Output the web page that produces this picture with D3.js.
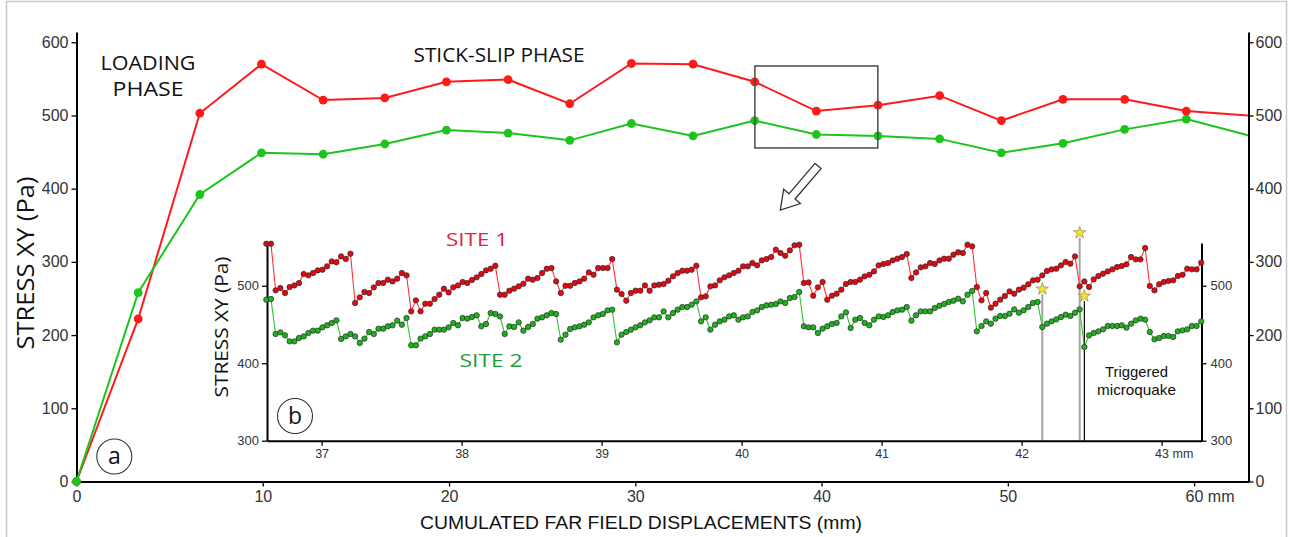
<!DOCTYPE html>
<html>
<head>
<meta charset="utf-8">
<script src="https://cdn.jsdelivr.net/npm/d3@7"></script>
<style>
  html, body { margin: 0; padding: 0; background: #fff; }
  svg { display: block; }
  .tick text { fill: #333; font-family: "Liberation Sans", Arial, sans-serif; }
</style>
</head>
<body>
<svg id="chart" width="1289" height="537"></svg>
<script>
// ---------------- DATA ----------------
// Main chart (a): cumulated far-field displacement (mm) vs stress XY (Pa)
const mainX = [0, 3.31, 6.62, 9.93, 13.24, 16.55, 19.86, 23.17, 26.48, 29.79, 33.1, 36.41, 39.72, 43.03, 46.34, 49.65, 52.96, 56.27, 59.58, 62.89];
const mainSite1 = [0, 222, 503, 570, 521, 524, 546, 549, 516, 571, 570, 546, 506, 514, 527, 493, 522, 522, 506, 500];
const mainSite2 = [0, 258, 392, 449, 447, 461, 480, 476, 466, 489, 472, 493, 474, 472, 468, 449, 462, 481, 495, 473];
const mainXTicks = [0, 10, 20, 30, 40, 50, 60];
const mainYTicks = [0, 100, 200, 300, 400, 500, 600];
// zoom box drawn on the main chart (data coordinates)
const zoomBoxX = [36.42, 43.02];
const zoomBoxY = [455.6, 567.6];

// Inset (b): regular sampling in displacement
const insetStartMM = 36.605;
const insetStepMM = 0.03339;
const insetSite1 = [
 554.2,554.2,494.0,497.0,490.6,498.3,500.4,503.5,515.1,513.4,516.4,519.8,520.7,525.0,531.4,530.2,537.9,534.5,541.3,
 477.7,485.0,491.9,490.6,497.9,503.5,503.5,507.8,505.6,509.1,516.4,513.4,
 466.9,481.1,466.9,476.8,476.8,482.8,488.4,496.2,491.4,497.9,500.4,504.8,503.5,507.4,510.8,515.1,519.8,521.9,525.8,
 488.4,488.4,493.6,496.2,499.2,502.6,509.1,507.8,509.9,516.4,521.9,522.8,505.6,490.6,500.0,500.0,503.5,505.6,509.1,517.2,514.2,522.8,522.8,522.8,534.5,
 494.9,489.3,480.7,490.6,493.6,493.6,500.4,493.6,500.4,501.3,502.2,506.5,512.1,516.4,519.4,519.4,520.7,525.8,
 485.0,486.3,499.2,500.4,506.9,510.8,513.4,516.4,
 519.4,525.0,525.0,529.3,526.3,532.7,534.5,537.0,546.5,542.2,538.7,545.6,552.1,552.9,
 503.5,504.3,487.1,497.9,504.8,482.0,487.1,489.7,494.9,502.2,504.8,504.8,507.8,512.1,514.2,518.5,526.3,528.0,529.3,532.7,534.9,537.0,540.9,
 509.9,517.2,523.7,525.0,529.3,528.0,532.7,534.9,534.9,540.0,543.1,542.2,552.9,
 550.8,498.3,481.1,490.6,471.7,476.8,482.0,486.7,492.7,489.7,494.9,497.5,501.8,506.9,507.8,513.4,519.0,521.1,522.0,526.3,530.6,528.4,537.9,
 499.2,505.6,498.3,508.2,512.5,515.5,518.5,521.1,524.1,525.4,527.6,537.0,534.0,534.0,548.6,
 499.6,494.0,501.8,504.8,506.1,506.9,512.5,514.2,522.0,521.1,521.1,529.7
];
const insetSite2 = [
 482.0,482.8,437.7,439.8,436.0,428.2,428.2,432.5,434.6,439.0,442.0,442.0,446.3,448.9,451.9,455.3,
 431.2,434.6,437.7,434.6,426.1,431.7,440.3,437.7,444.6,444.6,447.6,448.9,454.9,449.7,458.3,
 423.1,423.1,431.7,434.6,437.7,443.3,443.3,443.3,446.3,451.9,448.9,458.3,457.5,459.6,461.8,447.6,450.6,464.8,463.5,
 460.4,437.7,447.6,446.7,452.7,442.0,446.7,450.6,457.5,459.2,461.8,464.8,463.5,
 430.4,436.8,444.1,446.3,447.6,449.7,452.7,459.2,461.8,463.5,468.2,469.1,
 426.9,436.8,440.3,443.3,446.3,448.9,452.7,455.3,459.2,459.2,466.9,459.2,464.8,469.1,472.5,472.5,475.5,479.8,
 454.0,459.2,443.3,449.7,454.0,456.2,460.4,461.8,
 456.2,459.2,460.4,466.1,468.2,472.5,474.7,475.5,476.4,479.8,477.7,484.1,485.4,491.9,
 447.6,446.3,446.3,439.0,444.6,447.6,450.6,451.9,460.4,465.6,445.4,456.2,458.3,451.9,448.9,456.2,460.4,459.6,461.8,466.1,468.2,469.1,472.5,
 454.9,461.8,466.9,466.9,466.9,471.2,474.2,476.4,479.0,480.7,483.3,479.8,488.4,
 493.2,441.1,448.0,454.0,451.0,457.5,460.9,460.9,463.9,469.5,465.2,468.2,472.5,477.7,479.0,
 446.7,451.0,454.0,456.6,459.6,462.6,460.9,465.2,469.5,
 420.9,435.9,439.0,441.1,443.7,448.0,448.0,448.0,448.9,445.9,451.0,455.3,457.5,456.2,
 440.3,430.8,432.5,435.1,435.1,433.8,441.1,442.4,443.7,448.0,448.0,454.0
];
const insetXTicks = [37, 38, 39, 40, 41, 42, 43];
const insetYTicks = [300, 400, 500];
// triggered microquakes: sample index, star stress level (Pa), line kind
const quakeIndex = [166, 174, 175];
const quakeStarPa = [495.7, 568.4, 486.7];
const quakeLineKind = ["grey", "grey", "black"];

// ---------------- DRAWING ----------------
const svg = d3.select("#chart");
svg.append("rect").attr("width", 1289).attr("height", 537).attr("fill", "#fff");
// light frame
svg.append("rect").attr("x", 6.5).attr("y", 1.5).attr("width", 1280).attr("height", 545)
  .attr("fill", "none").attr("stroke", "#c9c9c9").attr("stroke-width", 1.5);

const xMain = d3.scaleLinear().domain([0, 62.92]).range([76.5, 1248.5]);
const yMain = d3.scaleLinear().domain([0, 614]).range([481.5, 32]);

const red = "#ff1a1a", green = "#1cc41c";
const fmtInt = d3.format("d");

function styleAxis(g, fontSize) {
  g.select(".domain").attr("stroke", "#000").attr("stroke-width", 2);
  g.selectAll(".tick line").attr("stroke", "#000").attr("stroke-width", 1.3);
  g.selectAll(".tick text").attr("font-size", fontSize);
}

// main axes
const gL = svg.append("g").attr("transform", `translate(${xMain(0)},0)`)
  .call(d3.axisLeft(yMain).tickValues(mainYTicks).tickFormat(fmtInt).tickSize(5).tickSizeOuter(0).tickPadding(3));
styleAxis(gL, 16);
const gR = svg.append("g").attr("transform", `translate(${xMain(62.92)},0)`)
  .call(d3.axisRight(yMain).tickValues(mainYTicks).tickFormat(fmtInt).tickSize(5).tickSizeOuter(0).tickPadding(2));
styleAxis(gR, 16);
const gB = svg.append("g").attr("transform", `translate(0,${yMain(0)})`)
  .call(d3.axisBottom(xMain).tickValues(mainXTicks).tickFormat(fmtInt).tickSize(5).tickSizeOuter(0).tickPadding(4));
styleAxis(gB, 16);
gB.selectAll(".tick text").filter(d => d === 60)
  .text("60 mm").attr("text-anchor", "start").attr("x", -9);

// main lines
const lineMain = d3.line().x((d, i) => xMain(mainX[i])).y(d => yMain(d));
[[mainSite1, red], [mainSite2, green]].forEach(([ser, col]) => {
  svg.append("path").datum(ser).attr("d", lineMain)
    .attr("fill", "none").attr("stroke", col).attr("stroke-width", 2);
  svg.append("g").selectAll("circle")
    .data(ser.map((v, i) => ({x: mainX[i], y: v})).filter(d => d.x < 62))
    .join("circle").attr("cx", d => xMain(d.x)).attr("cy", d => yMain(d.y)).attr("r", 4.4)
    .attr("fill", col);
});

// zoom box
svg.append("rect")
  .attr("x", xMain(zoomBoxX[0])).attr("y", yMain(zoomBoxY[1]))
  .attr("width", xMain(zoomBoxX[1]) - xMain(zoomBoxX[0]))
  .attr("height", yMain(zoomBoxY[0]) - yMain(zoomBoxY[1]))
  .attr("fill", "none").attr("stroke", "#4a4a4a").attr("stroke-width", 1.5);

// hollow arrow
const L = 58, hw = 4, hl = 18, hh = 11;
svg.append("polygon")
  .attr("points", [[0,-hw],[L-hl,-hw],[L-hl,-hh],[L,0],[L-hl,hh],[L-hl,hw],[0,hw]].map(p => p.join(",")).join(" "))
  .attr("transform", "translate(818,166) rotate(130.5)")
  .attr("fill", "#fff").attr("stroke", "#333").attr("stroke-width", 1.3);

// main texts
const sansFont = "'Open Sans', 'Liberation Sans', Arial, sans-serif";
function txt(x, y, s, size, opts = {}) {
  const t = svg.append("text").attr("x", x).attr("y", y).text(s)
    .attr("font-family", opts.family || sansFont).attr("font-size", size)
    .attr("fill", opts.fill || "#111").attr("text-anchor", opts.anchor || "middle");
  if (opts.len) t.attr("textLength", opts.len).attr("lengthAdjust", "spacingAndGlyphs");
  if (opts.rotate) t.attr("transform", `rotate(-90,${x},${y})`);
  return t;
}
txt(148, 70, "LOADING", 20, {len: 95});
txt(148, 96, "PHASE", 20, {len: 71});
txt(499, 62, "STICK-SLIP PHASE", 20, {len: 171});
txt(34, 263, "STRESS XY (Pa)", 23, {len: 173, rotate: true});
txt(641, 529, "CUMULATED FAR FIELD DISPLACEMENTS (mm)", 19,
  {len: 442, family: "'Liberation Sans Narrow', 'Liberation Sans', Arial, sans-serif"});

// circled labels
[[114.3, 456.5, "a"], [295, 416, "b"]].forEach(([cx, cy, s]) => {
  svg.append("circle").attr("cx", cx).attr("cy", cy).attr("r", 17.5)
    .attr("fill", "#fff").attr("stroke", "#333").attr("stroke-width", 1.1);
  txt(cx, cy + 7.5, s, 23, {});
});

// ---------------- INSET ----------------
const xIn = d3.scaleLinear().domain([36.61, 43.285]).range([267, 1201.5]);
const yIn = d3.scaleLinear().domain([300, 555]).range([440.7, 243.1]);
const xOf = i => xIn(insetStartMM + i * insetStepMM);

// quake lines (behind)
quakeIndex.forEach((qi, k) => {
  const grey = quakeLineKind[k] === "grey";
  svg.append("line").attr("x1", xOf(qi)).attr("x2", xOf(qi))
    .attr("y1", yIn(quakeStarPa[k]) + 5).attr("y2", yIn(300))
    .attr("stroke", grey ? "#a3a3a3" : "#000").attr("stroke-width", grey ? 2 : 1.2);
});

const gIL = svg.append("g").attr("transform", `translate(${xIn.range()[0]},0)`)
  .call(d3.axisLeft(yIn).tickValues(insetYTicks).tickFormat(fmtInt).tickSize(5).tickSizeOuter(0).tickPadding(3));
styleAxis(gIL, 13);
const gIR = svg.append("g").attr("transform", `translate(${xIn.range()[1]},0)`)
  .call(d3.axisRight(yIn).tickValues(insetYTicks).tickFormat(fmtInt).tickSize(5).tickSizeOuter(0).tickPadding(4));
styleAxis(gIR, 13);
const gIB = svg.append("g").attr("transform", `translate(0,${yIn(300)})`)
  .call(d3.axisBottom(xIn).tickValues(insetXTicks).tickFormat(fmtInt).tickSize(5).tickSizeOuter(0).tickPadding(3));
styleAxis(gIB, 12.5);
gIB.selectAll(".tick text").filter(d => d === 43)
  .text("43 mm").attr("text-anchor", "start").attr("x", -7);

const lineIn = d3.line().x((d, i) => xOf(i)).y(d => yIn(d));
[[insetSite1, "#ff3333", "#e8070f"], [insetSite2, "#2cc42c", "#1fb21f"]].forEach(([ser, lc, fc]) => {
  svg.append("path").datum(ser).attr("d", lineIn)
    .attr("fill", "none").attr("stroke", lc).attr("stroke-width", 1.1);
  svg.append("g").selectAll("circle").data(ser).join("circle")
    .attr("cx", (d, i) => xOf(i)).attr("cy", d => yIn(d)).attr("r", 2.7)
    .attr("fill", fc).attr("stroke", "#2a2a2a").attr("stroke-width", 0.7);
});

// stars
const star = d3.symbol(d3.symbolStar).size(48);
quakeIndex.forEach((qi, k) => {
  svg.append("path").attr("d", star)
    .attr("transform", `translate(${xOf(qi)},${yIn(quakeStarPa[k])})`)
    .attr("fill", "#f7e51d").attr("stroke", "#8a8a6a").attr("stroke-width", 0.7);
});

// inset texts
txt(228, 327, "STRESS XY (Pa)", 18.5, {len: 141, rotate: true});
txt(477, 246, "SITE 1", 19, {fill: "#e3233c", len: 62});
txt(491, 367, "SITE 2", 19, {fill: "#1b9e3b", len: 63});
txt(1136.5, 377, "Triggered", 14.5, {len: 63, family: "'Liberation Sans', Arial, sans-serif"});
txt(1136.5, 395, "microquake", 14.5, {len: 79, family: "'Liberation Sans', Arial, sans-serif"});
</script>
</body>
</html>
